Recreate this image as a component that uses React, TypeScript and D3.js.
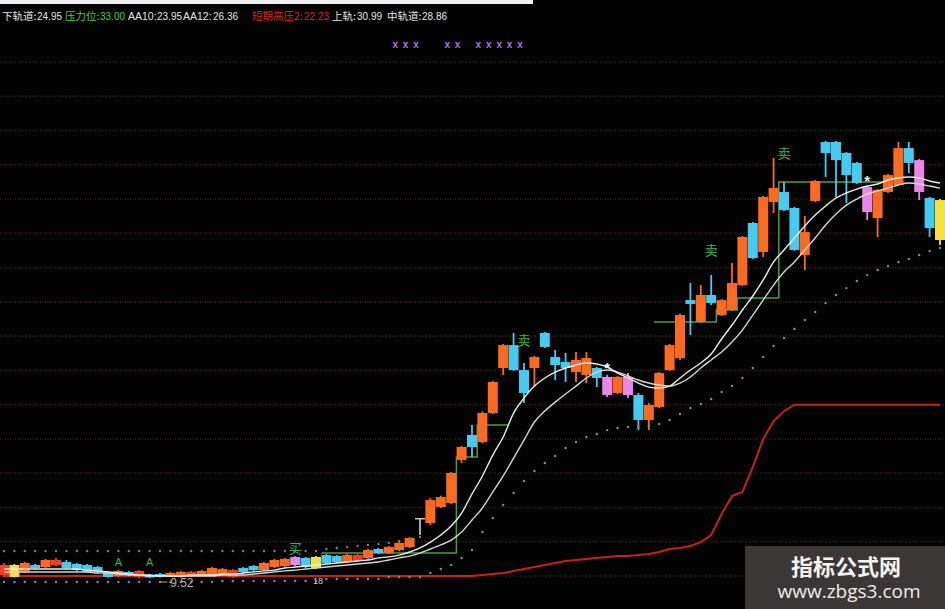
import React from 'react';
import * as d3 from 'd3';

// ---- daily bars (price) ----
const opens = [
  9.70, 10.29, 9.88, 10.29, 10.17, 10.29, 10.47, 10.35, 10.29, 10.17,
  9.88, 9.64, 9.88, 9.94, 9.70, 9.76, 9.64, 9.58, 9.64, 9.70,
  9.70, 9.76, 9.58, 10.11, 10.23, 9.99, 10.17, 10.23, 10.29, 10.71,
  10.11, 10.88, 10.82, 10.47, 10.53, 10.71, 11.24, 11.00, 11.18, 11.36,
  13.08, 12.78, 13.73, 13.97, 16.52, 18.00, 17.58, 19.30, 21.97, 23.33,
  21.85, 21.97, 24.05, 22.62, 22.33, 21.73, 21.56, 21.97, 21.44, 20.49,
  21.44, 20.37, 18.89, 19.66, 21.85, 22.56, 26.00, 24.70, 26.30, 25.11,
  25.41, 26.89, 30.57, 28.85, 31.81, 32.41, 31.46, 28.67, 31.87, 35.37,
  35.37, 34.72, 34.13, 32.70, 30.86, 32.41, 32.82, 35.01, 34.30, 32.05,
  31.93,
];
const highs = [
  10.41, 10.35, 10.47, 10.35, 10.65, 10.71, 10.59, 10.41, 10.35, 10.23,
  9.94, 10.00, 9.94, 10.00, 9.76, 9.82, 9.88, 9.94, 9.94, 10.00,
  10.17, 10.11, 10.05, 10.17, 10.29, 10.47, 10.65, 10.71, 10.82, 10.77,
  10.82, 10.94, 10.88, 10.94, 10.94, 11.24, 11.30, 11.42, 11.66, 11.95,
  13.08, 14.26, 14.40, 15.81, 17.35, 18.59, 19.40, 21.20, 23.40, 24.05,
  22.27, 22.70, 24.11, 23.04, 22.86, 22.92, 22.92, 22.03, 21.56, 21.50,
  21.67, 20.49, 19.90, 21.74, 23.40, 25.20, 27.01, 26.89, 27.48, 26.06,
  28.20, 29.80, 30.63, 32.17, 34.42, 33.00, 31.52, 30.98, 33.12, 35.43,
  35.43, 34.78, 34.19, 32.76, 32.58, 33.47, 35.37, 35.37, 34.36, 32.11,
  31.99,
];
const lows = [
  9.58, 9.55, 9.82, 10.05, 10.11, 10.23, 10.05, 9.93, 9.82, 9.82,
  9.55, 9.60, 9.64, 9.52, 9.53, 9.55, 9.58, 9.55, 9.58, 9.64,
  9.64, 9.70, 9.53, 9.82, 9.94, 9.94, 10.11, 10.17, 10.23, 10.11,
  10.05, 10.35, 10.41, 10.41, 10.47, 10.65, 10.94, 10.94, 11.12, 11.30,
  12.07, 12.66, 13.67, 13.90, 16.34, 16.69, 17.50, 19.24, 21.56, 21.80,
  19.90, 20.84, 23.16, 21.26, 21.14, 21.14, 21.08, 20.84, 20.25, 20.43,
  20.19, 18.29, 18.29, 19.60, 21.80, 22.45, 23.93, 24.64, 25.70, 25.05,
  25.35, 26.83, 28.43, 28.55, 31.16, 31.28, 28.91, 27.78, 31.81, 33.30,
  32.11, 31.75, 32.88, 30.75, 29.74, 32.35, 32.76, 33.53, 31.93, 29.74,
  29.26,
];
const closes = [
  10.29, 9.58, 10.41, 10.11, 10.59, 10.59, 10.11, 9.99, 9.88, 9.88,
  9.58, 9.94, 9.70, 9.58, 9.55, 9.58, 9.82, 9.88, 9.88, 9.94,
  10.11, 10.05, 9.99, 9.88, 9.99, 10.41, 10.59, 10.65, 10.77, 10.17,
  10.77, 10.41, 10.47, 10.88, 10.88, 11.18, 11.00, 11.36, 11.60, 11.89,
  13.08, 14.14, 14.32, 15.75, 17.29, 17.29, 19.30, 21.14, 23.33, 21.85,
  20.49, 22.62, 23.22, 22.15, 21.97, 22.45, 22.56, 21.38, 20.37, 21.44,
  20.37, 18.89, 19.78, 21.67, 23.33, 25.11, 25.77, 26.30, 25.82, 26.00,
  27.01, 29.74, 28.49, 32.11, 32.64, 31.34, 28.97, 30.03, 33.06, 34.72,
  34.30, 33.41, 32.94, 31.22, 32.52, 33.41, 35.01, 34.13, 32.41, 30.27,
  29.56,
];
// bar colouring state from the indicator: o rise, c fall, p/y/r special states, g doji
const tones = [
  'r', 'y', 'o', 'c', 'o', 'r', 'c', 'c', 'c', 'c',
  'c', 'o', 'c', 'r', 'c', 'c', 'o', 'o', 'r', 'o',
  'o', 'o', 'r', 'c', 'c', 'o', 'o', 'o', 'p', 'c',
  'y', 'c', 'c', 'o', 'r', 'o', 'c', 'o', 'o', 'o',
  'g', 'o', 'o', 'o', 'o', 'c', 'o', 'o', 'o', 'c',
  'c', 'o', 'c', 'c', 'c', 'o', 'o', 'c', 'p', 'o',
  'p', 'c', 'o', 'o', 'o', 'o', 'c', 'o', 'c', 'o',
  'o', 'o', 'c', 'o', 'o', 'c', 'c', 'o', 'o', 'c',
  'c', 'c', 'c', 'p', 'o', 'o', 'o', 'c', 'p', 'c',
  'y',
];

// ---- overlay series ----
const aa10 = [
  10.05, 10.05, 10.05, 10.05, 10.05, 10.05, 10.05, 10.05, 9.99, 9.94,
  9.88, 9.82, 9.76, 9.70, 9.70, 9.64, 9.64, 9.64, 9.70, 9.70,
  9.70, 9.76, 9.76, 9.82, 9.88, 9.94, 9.99, 10.11, 10.17, 10.23,
  10.29, 10.35, 10.41, 10.47, 10.53, 10.59, 10.71, 10.77, 10.88, 11.06,
  11.30, 11.65, 12.07, 12.60, 13.37, 14.50, 15.57, 16.81, 17.88, 19.30,
  20.19, 20.90, 21.38, 21.73, 21.97, 22.15, 22.27, 22.21, 22.03, 21.67,
  21.38, 21.08, 20.84, 20.79, 20.90, 21.38, 21.85, 22.27, 22.80, 23.69,
  24.52, 25.41, 26.24, 27.19, 28.26, 28.97, 29.68, 30.39, 31.04, 31.58,
  32.05, 32.35, 32.58, 32.76, 32.88, 33.12, 33.24, 33.30, 33.24, 33.06,
  32.94,
];
const aa12 = [
  9.88, 9.88, 9.88, 9.88, 9.88, 9.88, 9.88, 9.88, 9.88, 9.82,
  9.82, 9.76, 9.70, 9.70, 9.64, 9.64, 9.64, 9.64, 9.64, 9.64,
  9.64, 9.70, 9.70, 9.70, 9.76, 9.82, 9.88, 9.94, 9.99, 10.05,
  10.11, 10.17, 10.23, 10.29, 10.35, 10.41, 10.47, 10.59, 10.71, 10.82,
  11.00, 11.24, 11.48, 11.77, 12.25, 12.96, 13.67, 14.62, 15.57, 16.63,
  17.70, 18.77, 19.42, 19.95, 20.43, 20.90, 21.38, 21.73, 21.85, 21.73,
  21.50, 21.26, 21.08, 20.96, 20.90, 21.08, 21.44, 21.97, 22.45, 22.92,
  23.51, 24.22, 25.11, 26.00, 26.89, 27.66, 28.26, 28.97, 29.68, 30.45,
  31.10, 31.63, 31.99, 32.29, 32.47, 32.64, 32.82, 32.94, 32.88, 32.76,
  32.64,
];
const lowerBand = [
  9.28, 9.28, 9.28, 9.28, 9.28, 9.28, 9.28, 9.28, 9.28, 9.28,
  9.28, 9.28, 9.28, 9.28, 9.28, 9.28, 9.28, 9.28, 9.28, 9.28,
  9.28, 9.34, 9.34, 9.34, 9.34, 9.34, 9.34, 9.34, 9.34, 9.34,
  9.34, 9.46, 9.46, 9.46, 9.46, 9.46, 9.46, 9.58, 9.58, 9.58,
  9.58, 9.82, 10.05, 10.29, 10.71, 11.18, 12.25, 13.08, 13.85, 14.56,
  15.27, 15.86, 16.34, 16.75, 17.23, 17.58, 17.88, 18.06, 18.29, 18.41,
  18.47, 18.47, 18.53, 18.65, 18.89, 19.24, 19.60, 19.84, 20.13, 20.55,
  20.90, 21.38, 21.97, 22.62, 23.28, 23.75, 24.28, 24.82, 25.29, 25.82,
  26.30, 26.71, 27.13, 27.48, 27.78, 28.02, 28.26, 28.43, 28.67, 28.91,
  29.09,
];
const upperBand: (number | null)[] = [
  11.12, 11.12, 11.12, 11.12, 11.12, 11.12, 11.12, 11.12, 11.12, 11.12,
  11.12, 11.12, 11.12, 11.12, 11.12, 11.12, 11.12, 11.12, 11.12, 11.12,
  11.12, 11.12, 11.12, 11.12, 11.12, 11.12, 11.12, 11.12, 11.12, 11.12,
  11.12, 11.24, 11.30, 11.36, 11.42, 11.48, 11.54, 11.60, 11.71, 11.83,
  11.95, null, null, null, null, null, null, null, null, null,
  null, null, null, null, null, null, null, null, null, null,
  null, null, null, null, null, null, null, null, null, null,
  null, null, null, null, null, null, null, null, null, null,
  null, null, null, null, null, null, null, null, null, null,
  null,
];
// 压力位 step level
const pressure: (number | null)[] = [
  null, null, null, null, null, null, null, null, null, null,
  null, null, null, null, null, null, null, null, null, null,
  null, null, null, null, null, null, null, null, null, null,
  null, 11.00, 11.00, 11.00, 11.00, 11.00, 11.00, 11.00, 11.00, 11.00,
  11.00, 11.00, 11.00, 11.00, 16.69, 16.69, 18.59, 18.59, 18.59, null,
  null, null, null, null, null, null, null, null, null, null,
  null, null, null, 24.70, 24.70, 24.70, 24.70, 24.70, 24.70, 25.41,
  25.41, 26.12, 26.12, 26.12, 26.12, 33.00, 33.00, 33.00, 33.00, 33.00,
  33.00, 33.00, 33.00, 33.00, 33.00, 33.00, 33.00, null, null, null,
  null,
];
// lower-pane strength line (0-100)
const strength = [
  0, 0, 0, 0, 0, 0, 0, 0, 0, 0,
  0, 0, 0, 0, 0, 0, 0, 0, 0, 0,
  0, 0, 0, 0, 0, 0, 0, 0, 0, 0,
  0, 0, 0, 0, 0, 0, 0, 0, 0, 0,
  0, 0, 0, 0, 0, 0, 0.6, 1.2, 1.7, 2.9,
  4.1, 5.2, 6.4, 7.6, 8.7, 9.3, 9.9, 10.5, 11.1, 11.7,
  11.7, 12.2, 12.8, 14.0, 15.7, 16.3, 17.5, 19.8, 23.9, 36.2,
  46.6, 49.0, 63.6, 79.9, 90.4, 96.2, 100, 100, 100, 100,
  100, 100, 100, 100, 100, 100, 100, 100, 100, 100,
  100,
];

// ---- signals ----
const sellIdx = [50, 68, 75];
const sellPrice = [23.63, 28.97, 34.72];
const buyIdx = [28];
const buyPrice = [11.30];
const hintIdx = [11, 14];
const hintPrice = [10.47, 10.47];
const starIdx = [58, 83];
const starPrice = [22.03, 33.12];
const crossIdx = [38, 39, 40, 43, 44, 46, 47, 48, 49, 50];
const lowMarkIdx = 13;
const barCountIdx = 30;
const barCountText = '18';

// ---- header readout ----
const headerLabels = ['下轨道', '压力位', 'AA10', 'AA12', '短期高压2', '上轨', '中轨道'];
const headerValues = [24.95, 33.0, 23.95, 26.36, 22.23, 30.99, 28.86];
const headerColors = ['#e4e4e4', '#3ed23e', '#e4e4e4', '#e4e4e4', '#d8281e', '#e4e4e4', '#e4e4e4'];

const toneColors: Record<string, string> = {
  o: '#fb6a1e',
  c: '#45cbf2',
  p: '#e886ea',
  y: '#f6e03c',
  r: '#ff3b1c',
  g: '#bdbdbd',
};

const W = 945;
const H = 609;

export default function App() {
  const n = closes.length;
  const x = d3.scaleLinear().domain([0, n - 1]).range([4, 940]);
  const y = d3.scaleLinear().domain([9.52, 33]).range([578, 182]);
  const yStrength = d3.scaleLinear().domain([0, 300]).range([576, 62]);
  const half = (x(1) - x(0)) / 2;
  const bodyW = 10;

  const maLine = d3
    .line<number>()
    .x((_, i) => x(i))
    .y((v) => y(v))
    .curve(d3.curveMonotoneX);
  const strengthLine = d3
    .line<number>()
    .x((_, i) => x(i))
    .y((v) => yStrength(v));

  let pressurePath = '';
  let prev: number | null = null;
  pressure.forEach((v, i) => {
    if (v == null) {
      prev = null;
      return;
    }
    const x0 = x(i) - half;
    const x1 = x(i) + half;
    const yy = y(v);
    pressurePath += prev == null ? `M${x0},${yy}` : `L${x0},${yy}`;
    pressurePath += `L${x1},${yy}`;
    prev = v;
  });

  const gridLevels = d3.range(0, 301, 20);
  const numFont = '"Liberation Sans", Arial, sans-serif';
  const cjkFont = '"Noto Sans CJK SC", "Noto Sans", sans-serif';

  // header layout: label start and value start of each readout
  const headerLayout = [
    [2, 37],
    [65, 100],
    [128, 157],
    [183, 213],
    [252, 304],
    [332, 357],
    [387, 422],
  ];
  const isCjk = (s: string) => /[\u4e00-\u9fff]/.test(s);

  return (
    <svg
      width={W}
      height={H}
      viewBox={`0 0 ${W} ${H}`}
      style={{ position: 'fixed', left: 0, top: 0, background: '#000', display: 'block' }}
    >
      <rect x={0} y={0} width={W} height={H} fill="#020202" />
      <rect x={0} y={0} width={533} height={4} fill="#eeeeee" />

      {/* grid */}
      {gridLevels.map((v) => (
        <line
          key={v}
          x1={0}
          x2={W}
          y1={yStrength(v)}
          y2={yStrength(v)}
          stroke="#3a1c1e"
          strokeWidth={1.6}
          strokeDasharray="1 1.5"
        />
      ))}

      {/* strength line */}
      <path d={strengthLine(strength) || ''} fill="none" stroke="#c8201c" strokeWidth={2} />

      {/* pressure step */}
      <path d={pressurePath} fill="none" stroke="#4c9e44" strokeWidth={1.5} />

      {/* candles */}
      {closes.map((c, i) => {
        const o = opens[i];
        const col = toneColors[tones[i]];
        const top = y(Math.max(o, c));
        const bot = y(Math.min(o, c));
        return (
          <g key={i}>
            <line x1={x(i)} x2={x(i)} y1={y(highs[i])} y2={y(lows[i])} stroke={col} strokeWidth={1.8} />
            <rect
              x={x(i) - bodyW / 2}
              y={top}
              width={bodyW}
              height={Math.max(1.5, bot - top)}
              fill={col}
            />
          </g>
        );
      })}

      {/* moving averages */}
      <path d={maLine(aa12) || ''} fill="none" stroke="#d6d6d6" strokeWidth={1.4} />
      <path d={maLine(aa10) || ''} fill="none" stroke="#ececec" strokeWidth={1.4} />

      {/* bands as dots */}
      {lowerBand.map((v, i) => (
        <circle key={`lb${i}`} cx={x(i)} cy={y(v)} r={1.2} fill="#8a8a8a" />
      ))}
      {upperBand.map((v, i) =>
        v == null ? null : <circle key={`ub${i}`} cx={x(i)} cy={y(v)} r={1.2} fill="#7a7a7a" />
      )}

      {/* signals */}
      {sellIdx.map((idx, k) => (
        <text
          key={`s${k}`}
          x={x(idx)}
          y={y(sellPrice[k]) + 5}
          textAnchor="middle"
          fontFamily={cjkFont}
          fontSize={13}
          fill="#3fb34a"
        >
          卖
        </text>
      ))}
      {buyIdx.map((idx, k) => (
        <text
          key={`b${k}`}
          x={x(idx)}
          y={y(buyPrice[k]) + 5}
          textAnchor="middle"
          fontFamily={cjkFont}
          fontSize={13}
          fill="#3fb34a"
        >
          买
        </text>
      ))}
      {hintIdx.map((idx, k) => (
        <text
          key={`h${k}`}
          x={x(idx)}
          y={y(hintPrice[k]) + 4}
          textAnchor="middle"
          fontFamily={numFont}
          fontSize={11}
          fill="#3fb34a"
        >
          A
        </text>
      ))}
      {starIdx.map((idx, k) => (
        <text
          key={`st${k}`}
          x={x(idx)}
          y={y(starPrice[k]) + 6}
          textAnchor="middle"
          fontFamily={numFont}
          fontSize={15}
          fontWeight="bold"
          fill="#f0f0f0"
        >
          *
        </text>
      ))}
      {crossIdx.map((idx, k) => (
        <text
          key={`x${k}`}
          x={x(idx) - 4}
          y={48}
          textAnchor="middle"
          fontFamily={numFont}
          fontSize={10}
          fontWeight="bold"
          fill="#b070f0"
        >
          x
        </text>
      ))}

      {/* lowest-price tag */}
      <line
        x1={x(lowMarkIdx) + 21}
        x2={x(lowMarkIdx) + 28}
        y1={y(lows[lowMarkIdx]) + 4}
        y2={y(lows[lowMarkIdx]) + 4}
        stroke="#aaaaaa"
        strokeWidth={1}
      />
      <text
        x={x(lowMarkIdx) + 31}
        y={y(lows[lowMarkIdx]) + 9}
        fontFamily={numFont}
        fontSize={12}
        fill="#b4b4b4"
      >
        {lows[lowMarkIdx].toFixed(2)}
      </text>
      <text
        x={x(barCountIdx) + 2}
        y={y(lows[barCountIdx]) + 15}
        textAnchor="middle"
        fontFamily={numFont}
        fontSize={9}
        fill="#d0d0d0"
      >
        {barCountText}
      </text>

      {/* header readout */}
      {headerLabels.map((label, k) => {
        const [lx, vx] = headerLayout[k];
        return (
          <g key={`hd${k}`} fill={headerColors[k]}>
            <text x={lx} y={20} fontSize={10.5} fontFamily={isCjk(label) ? cjkFont : numFont}>
              {label}:
            </text>
            <text x={vx} y={20} fontSize={10} fontFamily={numFont}>
              {headerValues[k].toFixed(2)}
            </text>
          </g>
        );
      })}

      {/* site badge */}
      <rect x={745} y={546} width={200} height={63} fill="#3c3737" />
      <text
        x={846}
        y={575}
        textAnchor="middle"
        fontFamily={cjkFont}
        fontSize={22}
        fontWeight="bold"
        fill="#f4f4f4"
      >
        指标公式网
      </text>
      <text
        x={849}
        y={598}
        textAnchor="middle"
        fontFamily='"Open Sans", "DejaVu Sans", sans-serif'
        fontSize={19}
        fill="#eeeeee"
      >
        www.zbgs3.com
      </text>
    </svg>
  );
}
